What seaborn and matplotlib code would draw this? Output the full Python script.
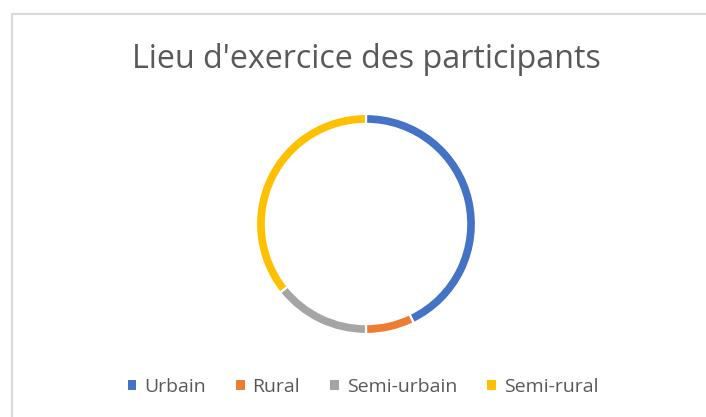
import numpy as np
import pandas as pd
import seaborn as sns
import matplotlib.pyplot as plt
from matplotlib.patches import Patch
from matplotlib.lines import Line2D

# data (counts of participants)
categories = ["Urbain", "Rural", "Semi-urbain", "Semi-rural"]
counts = [12, 2, 4, 10]
colors = ["#4472C4", "#ED7D31", "#A5A5A5", "#FFC000"]
title = "Lieu d'exercice des participants"

df = pd.DataFrame({"lieu": categories, "n": counts})

sns.set_theme(style="white")
plt.rcParams['font.family'] = ['Open Sans', 'DejaVu Sans']
txt = "#595959"

fig = plt.figure(figsize=(7.06, 4.17), dpi=100)
W, H = 706, 417

# chart frame (only top and left edges visible in the crop)
fig.add_artist(Line2D([11.5 / W, 11.5 / W], [0, 1 - 14 / H], color="#D9D9D9", lw=1.5))
fig.add_artist(Line2D([11.5 / W, 1], [1 - 14 / H, 1 - 14 / H], color="#D9D9D9", lw=1.5))

cx, cy, r = 366, 224, 110
ax = fig.add_axes([(cx - r) / W, (H - cy - r) / H, 2 * r / W, 2 * r / H])
wedges, _ = ax.pie(df["n"], colors=colors, startangle=90, counterclock=False,
                   radius=1.0, wedgeprops=dict(width=0.09, edgecolor="white", linewidth=1.6))
ax.set_xlim(-1, 1)
ax.set_ylim(-1, 1)
ax.set_aspect("equal")
ax.axis("off")

fig.text(cx / W, 1 - 59 / H, title, ha="center", va="center", fontsize=23.2, color=txt)

handles = [Patch(facecolor=c, edgecolor="none") for c in colors]
fig.legend(handles, categories, loc="center", bbox_to_anchor=(363 / W, 1 - 387 / H),
           ncol=4, frameon=False, fontsize=14, labelcolor=txt,
           handlelength=0.45, handleheight=0.45, handletextpad=0.4, columnspacing=1.55)

plt.savefig("out.png", dpi=100)
